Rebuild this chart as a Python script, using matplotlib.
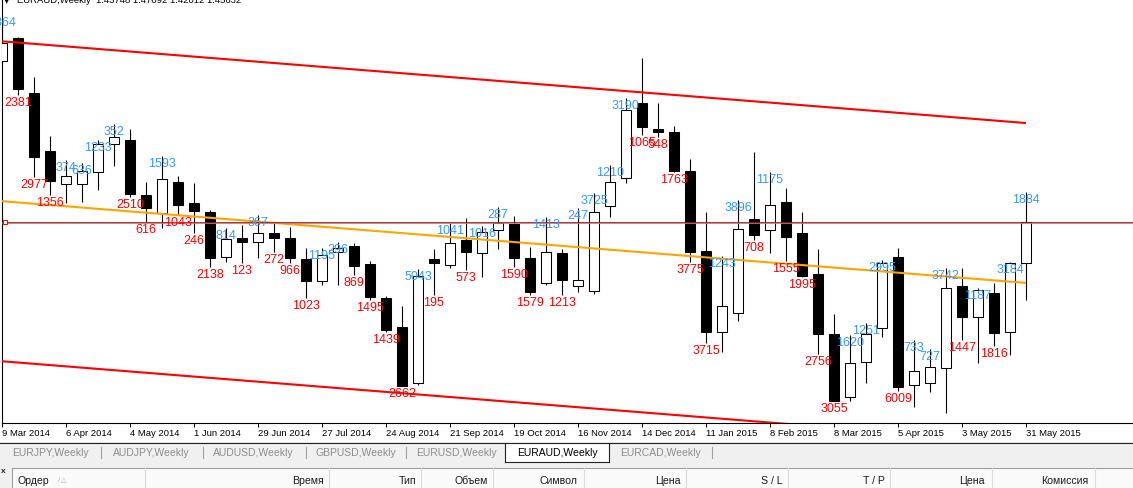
import matplotlib
matplotlib.use("Agg")
import matplotlib.pyplot as plt
from matplotlib.patches import Rectangle
from matplotlib.lines import Line2D

# ---------------- data (EURAUD weekly) ----------------
opens = [1.5326, 1.5435, 1.5175, 1.4902, 1.4747, 1.4747, 1.4803, 1.4935, 1.4954, 1.4695,
         1.4610, 1.4756, 1.4657, 1.4615, 1.4403, 1.4493, 1.4474, 1.4516, 1.4493, 1.4394,
         1.4290, 1.4427, 1.4455, 1.4370, 1.4210, 1.4073, 1.3810, 1.4394, 1.4365, 1.4483,
         1.4422, 1.4530, 1.4559, 1.4398, 1.4281, 1.4422, 1.4266, 1.4243, 1.4643, 1.4775,
         1.5128, 1.5006, 1.4992, 1.4808, 1.4431, 1.4050, 1.4139, 1.4582, 1.4530, 1.4662,
         1.4516, 1.4323, 1.4040, 1.3744, 1.3909, 1.4069, 1.4403, 1.3800, 1.3810, 1.3880,
         1.4266, 1.4120, 1.4233, 1.4050, 1.4375]
highs = [1.5543, 1.5439, 1.5251, 1.4973, 1.4860, 1.4846, 1.4954, 1.5030, 1.5006, 1.4756,
         1.4879, 1.4785, 1.4752, 1.4624, 1.4540, 1.4554, 1.4601, 1.4568, 1.4544, 1.4445,
         1.4445, 1.4474, 1.4469, 1.4384, 1.4219, 1.4172, 1.4347, 1.4441, 1.4563, 1.4587,
         1.4549, 1.4639, 1.4596, 1.4450, 1.4591, 1.4441, 1.4634, 1.4704, 1.4836, 1.5152,
         1.5340, 1.5128, 1.5020, 1.4865, 1.4615, 1.4408, 1.4672, 1.4898, 1.4803, 1.4728,
         1.4615, 1.4441, 1.4135, 1.4036, 1.4092, 1.4389, 1.4445, 1.4012, 1.3970, 1.4351,
         1.4351, 1.4257, 1.4281, 1.4380, 1.4709]
lows = [1.5317, 1.5166, 1.4780, 1.4695, 1.4657, 1.4662, 1.4719, 1.4832, 1.4686, 1.4568,
        1.4540, 1.4601, 1.4516, 1.4356, 1.4380, 1.4375, 1.4398, 1.4427, 1.4375, 1.4210,
        1.4271, 1.4271, 1.4318, 1.4200, 1.4050, 1.3795, 1.3800, 1.4224, 1.4351, 1.4342,
        1.4309, 1.4441, 1.4356, 1.4224, 1.4271, 1.4224, 1.4238, 1.4229, 1.4591, 1.4752,
        1.4978, 1.4968, 1.4803, 1.4380, 1.3998, 1.3956, 1.4102, 1.4483, 1.4422, 1.4384,
        1.4309, 1.3946, 1.3725, 1.3725, 1.3810, 1.4026, 1.3772, 1.3697, 1.3767, 1.3668,
        1.4012, 1.3904, 1.3984, 1.3941, 1.4200]
closes = [1.5411, 1.5194, 1.4874, 1.4761, 1.4785, 1.4808, 1.4935, 1.4968, 1.4700, 1.4634,
          1.4770, 1.4648, 1.4620, 1.4398, 1.4488, 1.4474, 1.4516, 1.4493, 1.4398, 1.4290,
          1.4412, 1.4445, 1.4361, 1.4215, 1.4059, 1.3795, 1.4314, 1.4375, 1.4469, 1.4427,
          1.4521, 1.4563, 1.4398, 1.4238, 1.4427, 1.4295, 1.4295, 1.4615, 1.4756, 1.5095,
          1.5015, 1.4992, 1.4808, 1.4427, 1.4050, 1.4172, 1.4535, 1.4507, 1.4648, 1.4497,
          1.4314, 1.4040, 1.3725, 1.3904, 1.4040, 1.4375, 1.3791, 1.3866, 1.3885, 1.4257,
          1.4120, 1.4248, 1.4045, 1.4375, 1.4568]
bar_labels = ["1864", "2381", "2977", "1356", "374", "636", "1233", "352", "2510", "616",
              "1593", "1043", "246", "2138", "814", "123", "367", "272", "966", "1023",
              "1195", "296", "869", "1495", "1439", "2662", "5043", "195", "1041", "573",
              "1016", "287", "1590", "1579", "1413", "1213", "247", "3725", "1210", "3190",
              "1065", "548", "1763", "3775", "3715", "1243", "3896", "708", "1175", "1555",
              "1995", "2756", "3055", "1620", "1251", "2995", "6009", "733", "727", "3742",
              "1447", "1187", "1816", "3184", "1884"]
tick_index = list(range(0, 65, 4))
tick_labels = ["9 Mar 2014", "6 Apr 2014", "4 May 2014", "1 Jun 2014", "29 Jun 2014",
               "27 Jul 2014", "24 Aug 2014", "21 Sep 2014", "19 Oct 2014", "16 Nov 2014",
               "14 Dec 2014", "11 Jan 2015", "8 Feb 2015", "8 Mar 2015", "5 Apr 2015",
               "3 May 2015", "31 May 2015"]
trend_x = [0, 64]
channel_upper = [1.5419, 1.5034]
channel_lower = [1.3912, 1.3527]
channel_mid = [1.4666, 1.4281]
bid_price = 1.4568
header_text = "EURAUD,Weekly  1.43748 1.47092 1.42012 1.45632"
tabs = ["EURJPY,Weekly", "AUDJPY,Weekly", "AUDUSD,Weekly", "GBPUSD,Weekly",
        "EURUSD,Weekly", "EURAUD,Weekly", "EURCAD,Weekly"]
active_tab = "EURAUD,Weekly"
columns = ["Время", "Тип", "Объем", "Символ", "Цена", "S / L", "T / P", "Цена", "Комиссия"]

# ---------------- layout ----------------
W, H = 1133, 488
FONT = ["Liberation Sans", "DejaVu Sans"]
plt.rcParams["font.family"] = FONT


def fx(px):
    return px / W


def fy(py):
    return 1 - py / H


fig = plt.figure(figsize=(W / 100, H / 100), dpi=100)
fig.patch.set_facecolor("#f0f0f0")
# chart window (white), behind the axes
fig.patches.append(Rectangle((0, fy(442)), 1, 442 / H, transform=fig.transFigure,
                             facecolor="white", edgecolor="none", zorder=-5))

ax = fig.add_axes([fx(1.5), fy(423), (W - 1.5) / W, 423 / H])
ax.set_zorder(2)
ax.set_facecolor("white")
ax.set_xlim((1.5 - 2) / 16, (W - 2) / 16)
ax.set_ylim(1.36212, 1.56135)
for s in ("top", "right"):
    ax.spines[s].set_visible(False)
ax.spines["left"].set_linewidth(0.8)
ax.spines["bottom"].set_linewidth(0.8)
ax.set_yticks([])

n = len(opens)
idx = list(range(n))
ax.vlines(idx, lows, highs, colors="black", linewidth=0.8, zorder=2)
bodies_h = [c - o for o, c in zip(opens, closes)]
fills = ["white" if c >= o else "black" for o, c in zip(opens, closes)]
ax.bar(idx, bodies_h, bottom=opens, width=0.64, color=fills, edgecolor="black",
       linewidth=0.75, zorder=3)

# channel and middle line
ax.plot(trend_x, channel_upper, color="#ff0000", lw=1.5, zorder=4, solid_capstyle="butt")
ax.plot(trend_x, channel_lower, color="#ff0000", lw=1.5, zorder=4, solid_capstyle="butt")
ax.plot(trend_x, channel_mid, color="#ffa500", lw=1.5, zorder=4, solid_capstyle="butt")

# bid line (thin red over a thin grey line)
ax.axhline(bid_price, color="#d00000", lw=0.6, zorder=4)
ax.axhline(bid_price - 0.00047, color="#8c8c8c", lw=0.6, zorder=4)
ax.plot([0.16], [bid_price], marker="s", markersize=3.2, markerfacecolor="white",
        markeredgecolor="#ff0000", markeredgewidth=0.8, zorder=5, clip_on=False)

# labels on candles
for i, t in enumerate(bar_labels):
    bull = closes[i] >= opens[i]
    anchor = highs[i] if bull else lows[i]
    ax.annotate(t, (i, anchor), xytext=(0, -8), textcoords="offset pixels",
                ha="center", va="center", fontsize=9,
                color="#3399ff" if bull else "#ff0000", zorder=6)

# x ticks
ax.set_xticks(tick_index)
ax.set_xticklabels(tick_labels)
ax.tick_params(axis="x", length=3, width=0.7, direction="out", pad=1.5,
               labelsize=6.8, colors="black")
for lbl in ax.get_xticklabels():
    lbl.set_horizontalalignment("left")

# header (clipped by the top edge)
fig.text(fx(4), fy(3.0), "▼", fontsize=5, va="baseline", family=["DejaVu Sans"], zorder=10)
fig.text(fx(17), fy(3.0), header_text, fontsize=6.8, va="baseline", zorder=10)

# ---------------- tab strip ----------------
fig.add_artist(Line2D([0, 1], [fy(442.5), fy(442.5)], transform=fig.transFigure,
                      color="#202020", lw=0.8))
tab_left = [12, 113, 213, 316, 416, 517, 620]
tab_seps = [101, 203, 306, 406, 712]
fig.patches.append(Rectangle((fx(505), fy(462)), fx(609) - fx(505), fy(443) - fy(462),
                             transform=fig.transFigure, facecolor="white",
                             edgecolor="none", zorder=-4))
for xs in ([505, 505], [609, 609]):
    fig.add_artist(Line2D([fx(xs[0]), fx(xs[1])], [fy(443), fy(462)],
                          transform=fig.transFigure, color="#202020", lw=0.8))
fig.add_artist(Line2D([fx(505), fx(609)], [fy(462), fy(462)],
                      transform=fig.transFigure, color="#202020", lw=0.8))
for t, xl in zip(tabs, tab_left):
    fig.text(fx(xl), fy(452.5), t, fontsize=7.5, va="center", ha="left",
             color="black" if t == active_tab else "#8c8c8c")
for xs in tab_seps:
    fig.add_artist(Line2D([fx(xs), fx(xs)], [fy(447), fy(458)], transform=fig.transFigure,
                          color="#a0a0a0", lw=0.8))

# ---------------- terminal table header ----------------
fig.patches.append(Rectangle((fx(12), 0), 1 - fx(12), fy(467.5), transform=fig.transFigure,
                             facecolor="#fafafa", edgecolor="none", zorder=-4))
fig.add_artist(Line2D([fx(12), 1], [fy(467.5), fy(467.5)], transform=fig.transFigure,
                      color="#a0a0a0", lw=0.8))
fig.add_artist(Line2D([fx(12), fx(12)], [0, fy(467.5)], transform=fig.transFigure,
                      color="#a0a0a0", lw=0.8))
col_seps = [145, 329, 421, 493, 584, 686, 788, 890, 992, 1095]
for xs in col_seps:
    fig.add_artist(Line2D([fx(xs), fx(xs)], [0, fy(468)], transform=fig.transFigure,
                          color="#dcdcdc", lw=0.8))
col_right = [324, 416, 488, 578, 681, 783, 885, 985, 1088]
fig.text(fx(17), fy(480.5), "Ордер", fontsize=7.6, va="center", ha="left", color="#1a1a1a")
fig.text(fx(58), fy(480.5), "/", fontsize=6, va="center", ha="left", color="#b0b0b0")
fig.text(fx(61), fy(480.5), "△", fontsize=5, va="center", ha="left", color="#b0b0b0",
         family=["DejaVu Sans"])
for t, xr in zip(columns, col_right):
    fig.text(fx(xr), fy(480.5), t, fontsize=7.6, va="center", ha="right", color="#1a1a1a")
fig.text(fx(0.5), fy(471.5), "x", fontsize=6, va="center", ha="left", weight="bold",
         color="#202020")

fig.savefig("out.png", dpi=100, facecolor=fig.get_facecolor())
